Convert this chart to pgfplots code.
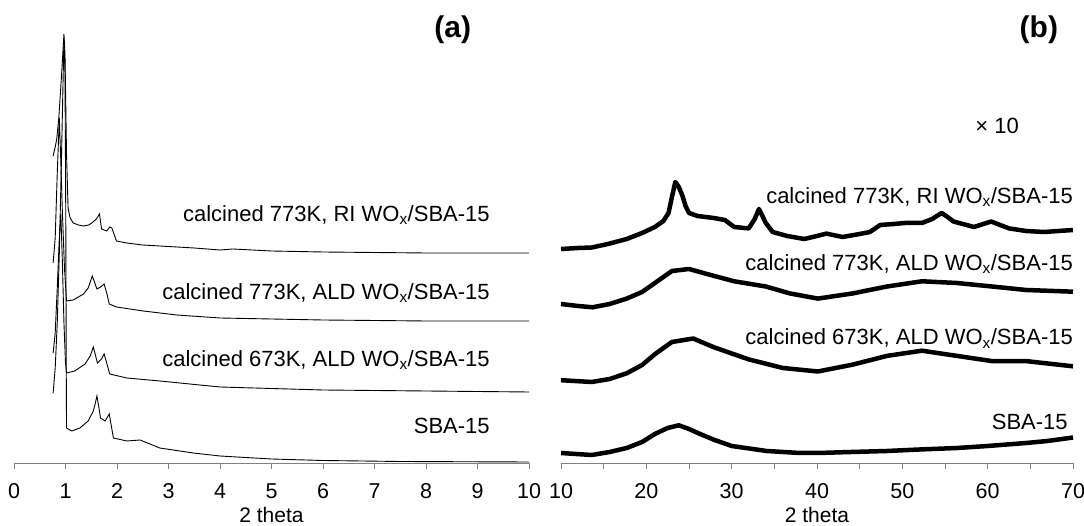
\documentclass[border=0pt]{standalone}
\usepackage{fontspec}
\setmainfont{Liberation Sans}
\usepackage{pgfplots}
\pgfplotsset{compat=1.18}
\definecolor{axgray}{RGB}{128,128,128}
\begin{document}
\begin{tikzpicture}
\tikzset{lbl/.style={font=\fontsize{22}{24}\selectfont, anchor=east, inner sep=0pt},
  ttl/.style={font=\fontsize{30}{30}\selectfont\bfseries, inner sep=0pt},
  xlab/.style={font=\fontsize{21}{21}\selectfont, inner sep=0pt}}
\pgfplotsset{
  xrd/.style={
    scale only axis, clip=false,
    height=463pt, ymin=0, ymax=463,
    axis x line*=bottom, axis y line=none,
    x axis line style={axgray, line width=0.9pt},
    tick style={axgray, line width=0.9pt},
    tick align=outside, major tick length=6pt, minor tick length=6pt,
    /pgf/number format/assume math mode=true,
    xticklabel style={font=\fontsize{21.5}{22}\selectfont, anchor=base, yshift=-30pt},
  },
}
% ---------------- panel (a)
\begin{axis}[xrd, at={(0pt,0pt)}, anchor=south west,
  width=515pt, xmin=0, xmax=10, xtick={0,1,...,10}]
\addplot[black, line width=0.9pt] coordinates {
(0.76,307)(0.80,316)(0.83,324)(0.87,345)(0.92,385)(0.97,429)(0.99,409)(1.02,309)(1.05,255)(1.09,245)(1.15,240)(1.25,238)(1.35,237)(1.45,238)(1.51,240)(1.60,244)(1.66,249)(1.70,234)(1.80,232)(1.86,236)(1.90,235)(1.99,222)(2.19,220)(2.5,218)(2.83,217)(3.5,215)(4.0,213)(4.25,214)(5,212)(6,211)(8,210)(10,210)};
\addplot[black, line width=0.9pt] coordinates {
(0.76,200)(0.80,225)(0.84,290)(0.88,345)(0.91,300)(0.94,250)(0.98,195)(1.02,162)(1.15,163)(1.35,169)(1.44,175)(1.52,187)(1.57,180)(1.61,174)(1.68,176)(1.75,179)(1.80,170)(1.85,159)(1.99,156)(2.51,152)(3.16,148)(4.0,145)(6,143)(8,142)(10,142)};
\addplot[black, line width=0.9pt] coordinates {
(0.76,110)(0.80,130)(0.84,175)(0.88,225)(0.91,249)(0.94,200)(0.97,140)(1.0,100)(1.02,90)(1.18,92)(1.38,99)(1.48,107)(1.54,116)(1.58,108)(1.62,100)(1.70,104)(1.75,109)(1.80,100)(1.86,89)(2.19,85)(2.83,82)(4.0,76)(6,73)(8,72)(10,71)};
\addplot[black, line width=0.9pt] coordinates {
(0.76,70)(0.80,95)(0.84,140)(0.88,210)(0.92,300)(0.97,425)(0.99,390)(1.005,250)(1.015,90)(1.02,35)(1.12,32)(1.28,35)(1.44,42)(1.54,52)(1.58,60)(1.61,67)(1.65,55)(1.68,45)(1.77,42)(1.85,49)(1.93,25)(2.19,22)(2.45,23)(2.83,15)(3.48,10)(4.0,7)(5,4)(6,2.5)(7.5,1.5)(10,1)};
\node[lbl] at (axis cs:9.24,248) {calcined 773K, RI WO\textsubscript{x}/SBA-15};
\node[lbl] at (axis cs:9.24,170) {calcined 773K, ALD WO\textsubscript{x}/SBA-15};
\node[lbl] at (axis cs:9.24,103) {calcined 673K, ALD WO\textsubscript{x}/SBA-15};
\node[lbl] at (axis cs:9.24,37) {SBA-15};
\node[ttl] at (axis cs:8.52,433) {(a)};
\node[xlab] at (axis cs:5,-52) {2 theta};
\end{axis}
% ---------------- panel (b)
\begin{axis}[xrd, at={(547pt,0pt)}, anchor=south west,
  width=512pt, xmin=10, xmax=70, xtick={10,20,...,70}, minor x tick num=1]
\addplot[black, line width=4.5pt, line join=round] coordinates {
(10,214)(12,215)(13.6,215.5)(15.5,219)(17.7,224)(19.5,230)(21,236)(22,242)(22.6,250)(23.0,266)(23.4,281)(23.8,276)(24.2,268)(24.6,257)(25.0,250)(26,247)(27.9,245)(29.2,243)(30.3,236)(32.0,234.6)(32.7,244)(33.2,254)(33.6,247)(34.0,240)(34.8,231)(36.5,227)(38.5,224)(40,227)(41.1,229.4)(43,226)(45,229)(46.2,231)(47.4,238)(49,239)(50.3,240)(52.3,240)(53.5,244)(54.6,250)(55.3,246)(56,241.5)(58.4,236)(60.4,241.5)(62.5,234.6)(64.5,232)(66.6,231)(70,233)};
\addplot[black, line width=4.5pt, line join=round] coordinates {
(10,159)(12,157)(13.7,155.7)(15.7,159)(17.7,164.4)(19.5,171)(21,180)(23,192)(25,194)(27.1,189)(30.3,181.7)(34,176.5)(36.8,169.6)(40.1,164.4)(44.2,169.6)(48.2,176.5)(52.3,181.7)(56.4,180)(60.5,176.5)(64.5,173)(70,171.3)};
\addplot[black, line width=4.5pt, line join=round] coordinates {
(10,82.8)(13.6,81)(15.7,84)(17.7,89.7)(19.5,98)(21,108.8)(23,121)(25.5,124.5)(27.9,115.8)(32,103.6)(36,95)(40.1,91.5)(44.2,98.4)(48.2,107.1)(52.3,112.3)(56.4,107.1)(60.5,101.9)(64.5,101.9)(70,96.7)};
\addplot[black, line width=4.5pt, line join=round] coordinates {
(10,10)(13.6,8)(15.7,11)(17.7,15)(19.5,21)(21,29)(22.5,35)(23.8,37.7)(25,34)(26.3,29)(28,23)(30,17)(34.1,12)(38,10)(40.1,10)(44,11)(48.2,12)(52,13.5)(56.4,15)(60,17)(64.5,20)(67,22)(70,25.5)};
\node[lbl] at (axis cs:70,266) {calcined 773K, RI WO\textsubscript{x}/SBA-15};
\node[lbl] at (axis cs:70,199) {calcined 773K, ALD WO\textsubscript{x}/SBA-15};
\node[lbl] at (axis cs:70,124.5) {calcined 673K, ALD WO\textsubscript{x}/SBA-15};
\node[lbl] at (axis cs:69.4,41) {SBA-15};
\node[font=\fontsize{22}{22}\selectfont] at (axis cs:61.1,337) {× 10};
\node[ttl] at (axis cs:66.0,433) {(b)};
\node[xlab] at (axis cs:40,-52) {2 theta};
\end{axis}
\pgfresetboundingbox
\useasboundingbox (-14pt,-63pt) rectangle (1070pt,463pt);
\end{tikzpicture}
\end{document}
